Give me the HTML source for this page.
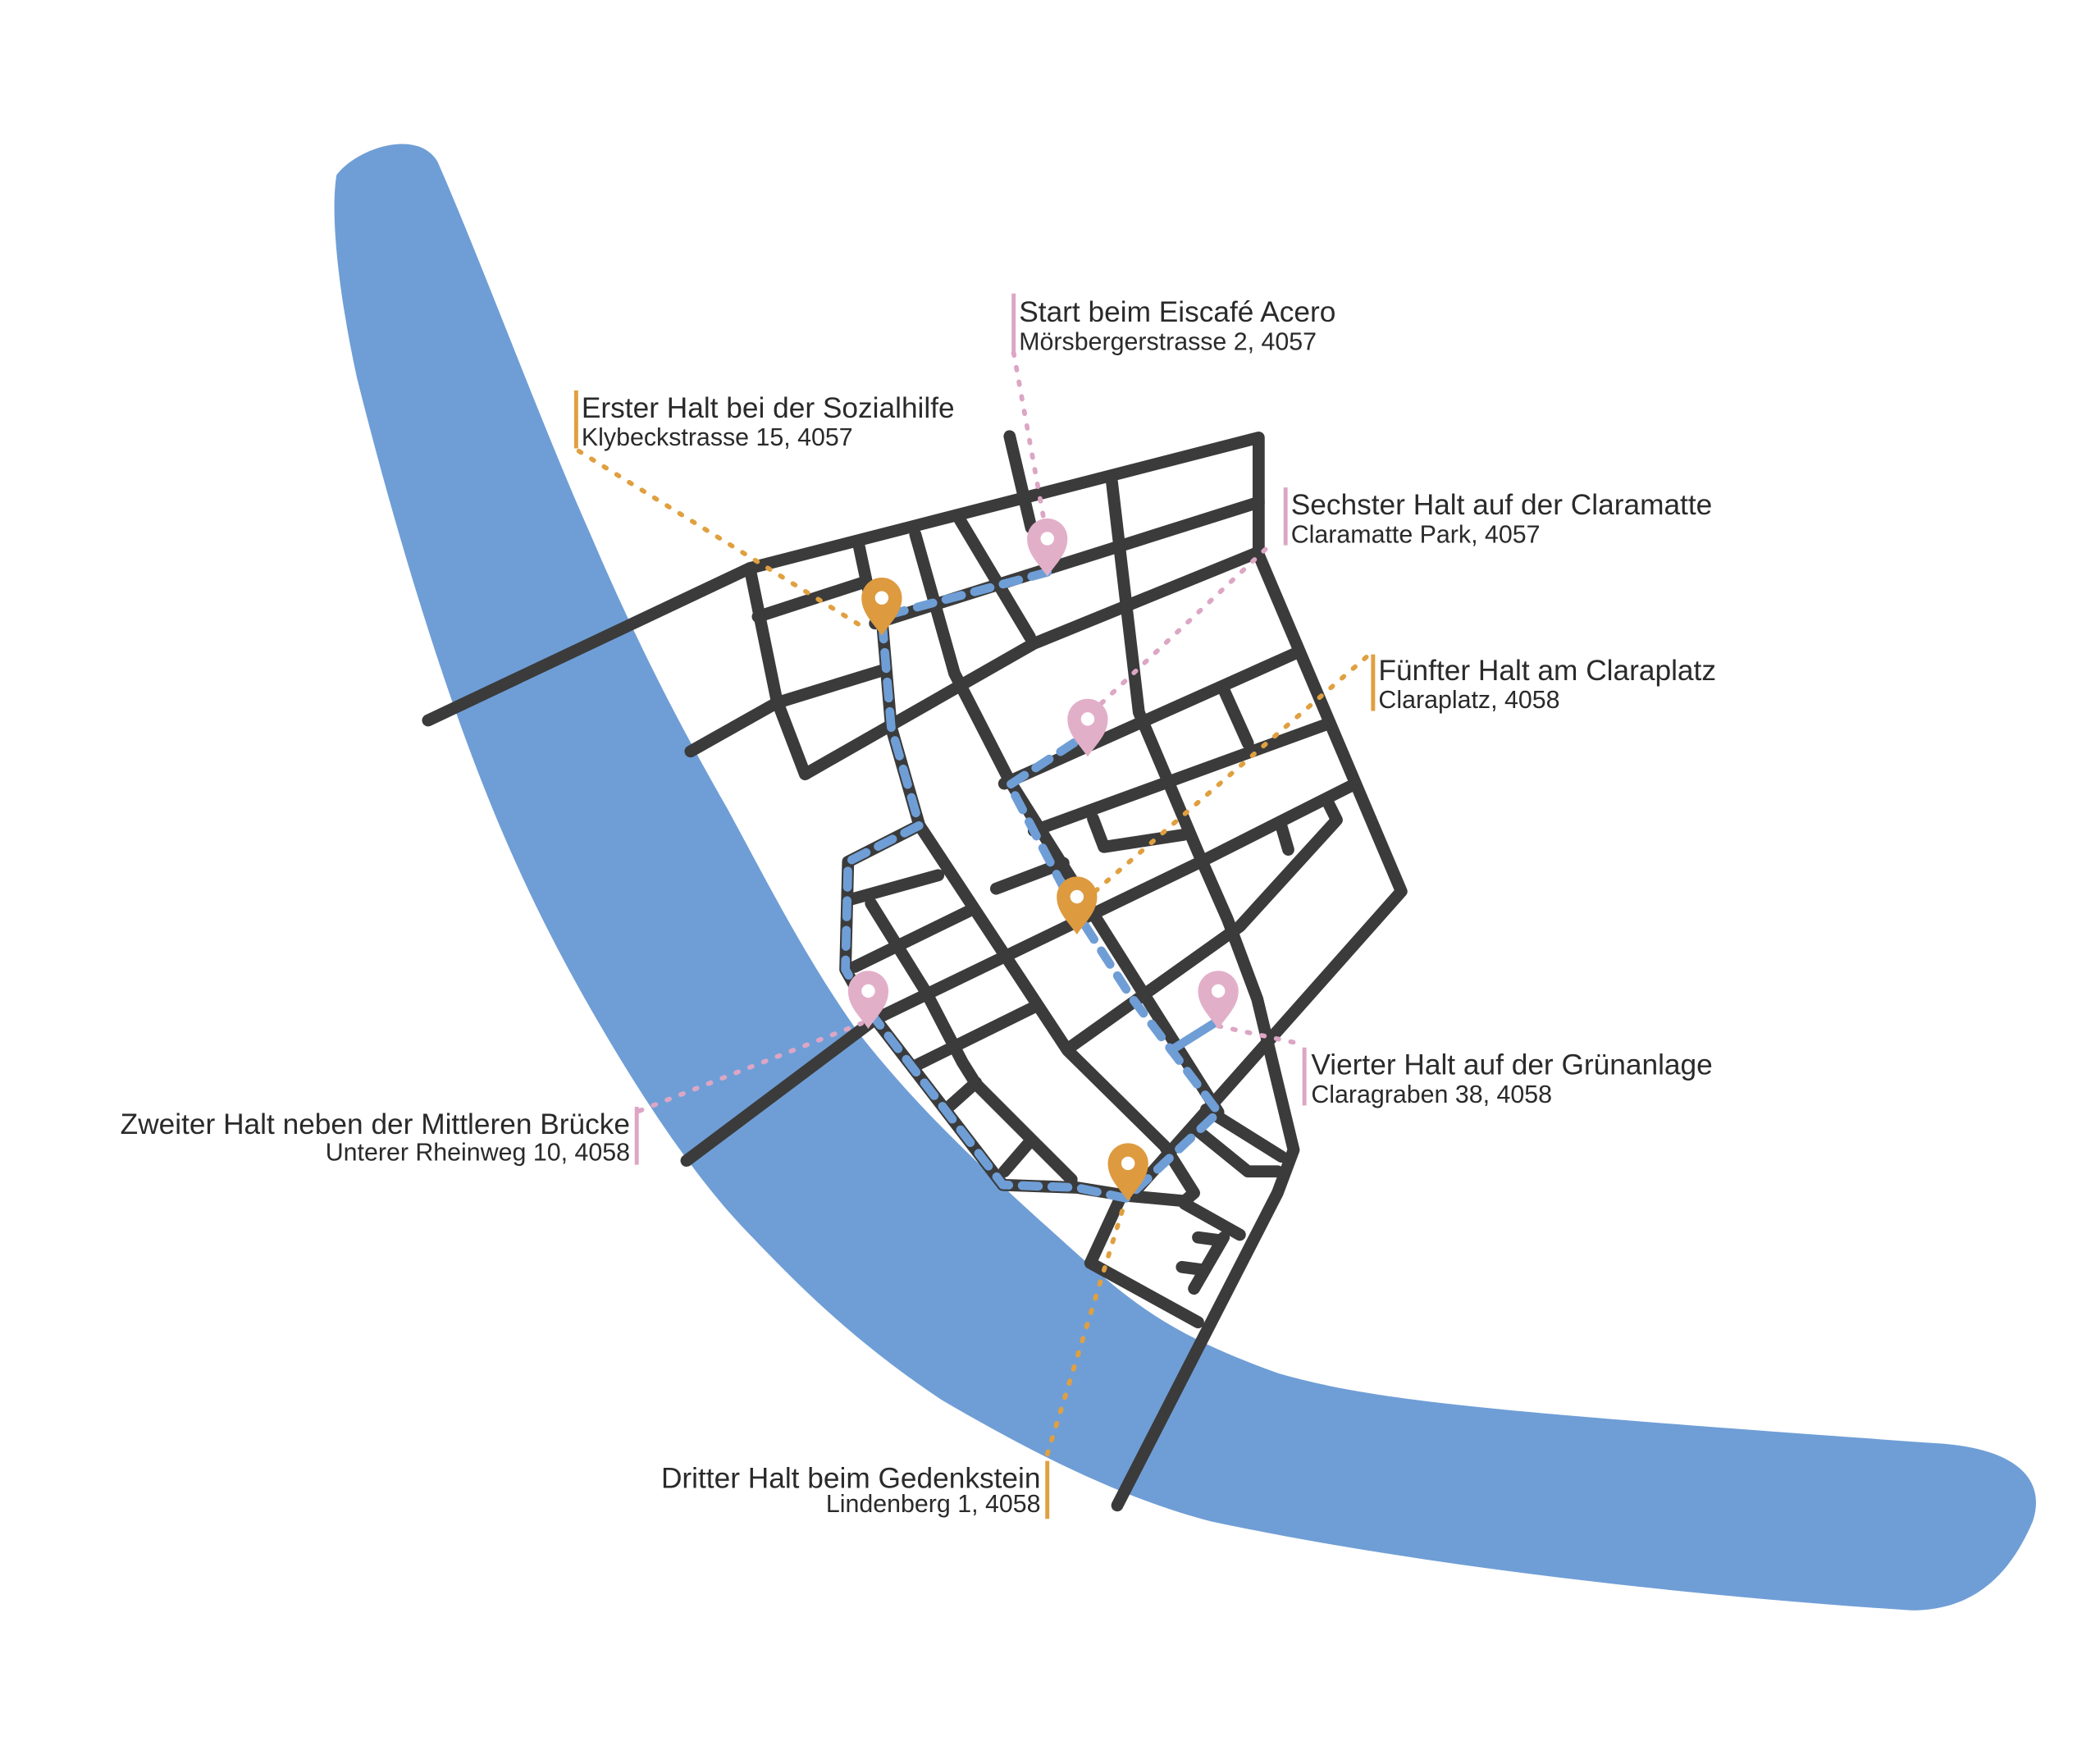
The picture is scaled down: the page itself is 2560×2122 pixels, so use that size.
<!DOCTYPE html>
<html><head><meta charset="utf-8"><style>
html,body{margin:0;padding:0;background:#fff;}
svg{display:block}
text{font-family:"Liberation Sans",sans-serif;fill:#2a2a2a}
.t{font-size:21.5px}.s{font-size:18.5px}
</style></head><body>
<svg width="2560" height="2122" viewBox="0 0 1560 1293" preserveAspectRatio="none" xmlns="http://www.w3.org/2000/svg">
<path fill="#6f9ed6" d="M325,120 C360,200 400,310 440,400 C470,470 500,530 540,600 C570,655 600,715 640,770 C680,820 720,860 810,940 C850,975 880,995 950,1020 C1020,1040 1100,1048 1440,1072 C1500,1076 1520,1100 1510,1130 C1495,1165 1470,1196 1420,1196 C1250,1185 1050,1162 900,1130 C830,1112 760,1075 700,1040 C640,1000 600,962 560,920 C520,880 480,820 445,760 C410,700 380,640 350,560 C320,480 290,380 265,280 C252,220 245,160 250,130 C265,110 310,95 325,120 Z"/>
<g fill="none" stroke="#3b3b3b" stroke-width="9" stroke-linecap="round" stroke-linejoin="round">
<path d="M318,535 L557,422 L935,325 L935,412 L1041,662 L843,885"/>
<path d="M557,422 L577,520 L598,575 L768,478 L935,410"/>
<path d="M513,558 L577,522 L655,498"/>
<path d="M563,458 L640,433"/>
<path d="M638,405 L645,438"/>
<path d="M650,463 L935,373"/>
<path d="M750,324 L766,392"/>
<path d="M680,397 L709,500 L750,580 L905,826"/>
<path d="M713,386 L765,473"/>
<path d="M826,358 L846,529 L890,633 L912,683 L934,742 L961,854 L949,886 L830,1118"/>
<path d="M746,582 L965,484"/>
<path d="M909,512 L927,552"/>
<path d="M768,617 L988,537"/>
<path d="M812,608 L820,629 L879,620"/>
<path d="M740,660 L790,641"/>
<path d="M510,862 L650,757 L890,641 L1003,584"/>
<path d="M796,777 L921,688 L993,609 L986,595"/>
<path d="M952,614 L957,631"/>
<path d="M655,458 L662,540 L683,613 L630,640 L628,720 L645,750 L745,880 L800,882 L837,888 L880,892 L887,886 L865,851 L793,780 L683,613"/>
<path d="M880,894 L921,917"/>
<path d="M896,824 L952,859"/>
<path d="M890,840 L927,870 L949,870"/>
<path d="M834,886 L810,938 L890,982"/>
<path d="M909,919 L887,957"/>
<path d="M890,919 L905,921"/>
<path d="M878,941 L893,943"/>
<path d="M632,668 L697,650"/>
<path d="M647,671 L688,737 L715,789 L725,805 L796,876"/>
<path d="M635,718 L719,677"/>
<path d="M681,791 L768,748"/>
<path d="M706,821 L725,804"/>
<path d="M746,870 L765,848"/>
</g>
<g fill="none" stroke="#6f9ed6" stroke-width="6.5" stroke-linecap="round" stroke-linejoin="round">
<path stroke-dasharray="12 10" d="M778,425 L655,458 L662,540 L683,613 L630,640 L628,720 L645,750 L745,880 L800,882 L837,890 L905,826 L840,740 L800,678 L750,583 L808,545"/>
<path d="M870,780 L905,758"/>
</g>
<g fill="none" stroke-width="3.5" stroke-linecap="round" stroke-dasharray="2 9">
<path stroke="#e0a040" d="M430,335 L640,465"/>
<path stroke="#e0a040" d="M1015,488 L810,665"/>
<path stroke="#e0a040" d="M778,1080 L835,895"/>
<path stroke="#dca6c4" d="M753,262 L778,400"/>
<path stroke="#dca6c4" d="M940,408 L810,530"/>
<path stroke="#dca6c4" d="M475,825 L640,760"/>
<path stroke="#dca6c4" d="M905,762 L965,775"/>
</g>
<g>
<g fill="#dd9a3f">
<path d="M655,472 C648,462 640,455 640,444 A15,15 0 0 1 670,444 C670,455 662,462 655,472Z"/>
<path d="M800,694 C793,684 785,677 785,666 A15,15 0 0 1 815,666 C815,677 807,684 800,694Z"/>
<path d="M838,892 C831,882 823,875 823,864 A15,15 0 0 1 853,864 C853,875 845,882 838,892Z"/>
</g>
<g fill="#e2afc9">
<path d="M778,428 C771,418 763,411 763,400 A15,15 0 0 1 793,400 C793,411 785,418 778,428Z"/>
<path d="M808,562 C801,552 793,545 793,534 A15,15 0 0 1 823,534 C823,545 815,552 808,562Z"/>
<path d="M645,764 C638,754 630,747 630,736 A15,15 0 0 1 660,736 C660,747 652,754 645,764Z"/>
<path d="M905,764 C898,754 890,747 890,736 A15,15 0 0 1 920,736 C920,747 912,754 905,764Z"/>
</g>
<g fill="#fff">
<circle cx="655" cy="444" r="5"/><circle cx="800" cy="666" r="5"/><circle cx="838" cy="864" r="5"/>
<circle cx="778" cy="400" r="5"/><circle cx="808" cy="534" r="5"/><circle cx="645" cy="736" r="5"/><circle cx="905" cy="736" r="5"/>
</g>
</g>
<g stroke-width="3">
<line x1="753" y1="218" x2="753" y2="262" stroke="#dca6c4"/>
<line x1="428" y1="290" x2="428" y2="333" stroke="#e0a040"/>
<line x1="955" y1="362" x2="955" y2="405" stroke="#dca6c4"/>
<line x1="1020" y1="486" x2="1020" y2="528" stroke="#e0a040"/>
<line x1="969" y1="778" x2="969" y2="821" stroke="#dca6c4"/>
<line x1="473" y1="822" x2="473" y2="865" stroke="#dca6c4"/>
<line x1="778" y1="1085" x2="778" y2="1128" stroke="#e0a040"/>
</g>
<text class="t" x="757" y="239">Start beim Eiscafé Acero</text>
<text class="s" x="757" y="260">Mörsbergerstrasse 2, 4057</text>
<text class="t" x="432" y="310">Erster Halt bei der Sozialhilfe</text>
<text class="s" x="432" y="331">Klybeckstrasse 15, 4057</text>
<text class="t" x="959" y="382">Sechster Halt auf der Claramatte</text>
<text class="s" x="959" y="403">Claramatte Park, 4057</text>
<text class="t" x="1024" y="505">Fünfter Halt am Claraplatz</text>
<text class="s" x="1024" y="526">Claraplatz, 4058</text>
<text class="t" x="974" y="798">Vierter Halt auf der Grünanlage</text>
<text class="s" x="974" y="819">Claragraben 38, 4058</text>
<text class="t" x="468" y="842" text-anchor="end">Zweiter Halt neben der Mittleren Brücke</text>
<text class="s" x="468" y="862" text-anchor="end">Unterer Rheinweg 10, 4058</text>
<text class="t" x="773" y="1105" text-anchor="end">Dritter Halt beim Gedenkstein</text>
<text class="s" x="773" y="1123" text-anchor="end">Lindenberg 1, 4058</text>
</svg>
</body></html>
